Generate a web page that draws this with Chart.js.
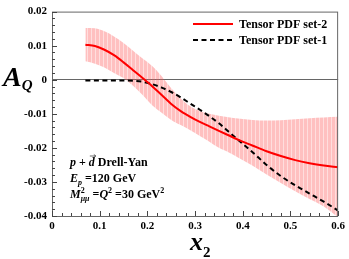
<!DOCTYPE html>
<html>
<head>
<meta charset="utf-8">
<script src="https://cdn.jsdelivr.net/npm/chart.js@4.4.1/dist/chart.umd.min.js"></script>
<style>
html, body { margin: 0; padding: 0; background: #fff; }
canvas { display: block; }
</style>
</head>
<body>
<canvas id="chart" width="349" height="259"></canvas>
<script>
// values
const xValues = [0.07, 0.09, 0.11, 0.13, 0.15, 0.17, 0.19, 0.21, 0.23, 0.25, 0.27, 0.29,
    0.31, 0.33, 0.35, 0.37, 0.39, 0.42, 0.45, 0.48, 0.51, 0.54, 0.57, 0.60];
const set2Values = [0.0103, 0.0099, 0.0088, 0.0072, 0.0051, 0.0028, 0.0005, -0.0019, -0.0045, -0.0071, -0.0092, -0.0109,
    -0.0124, -0.0137, -0.0150, -0.0163, -0.0176, -0.0193, -0.0210, -0.0224, -0.0236, -0.0245, -0.0252, -0.0257];
const set1Values = [-0.0002, -0.0002, -0.0002, -0.0002, -0.0002, -0.0003, -0.0006, -0.0013, -0.0023, -0.0036, -0.0052, -0.0070,
    -0.0088, -0.0107, -0.0128, -0.0152, -0.0176, -0.0212, -0.0250, -0.0283, -0.0310, -0.0334, -0.0358, -0.0384];
const bandUpper = [0.0152, 0.0151, 0.0142, 0.0127, 0.0108, 0.0085, 0.0062, 0.0040, 0.0010, -0.0025, -0.0055, -0.0078,
    -0.0092, -0.0100, -0.0106, -0.0110, -0.0114, -0.0118, -0.0120, -0.0119, -0.0116, -0.0113, -0.0111, -0.0109];
const bandLower = [0.0054, 0.0047, 0.0036, 0.0020, 0.0005, -0.0018, -0.0045, -0.0075, -0.0097, -0.0118, -0.0133, -0.0148,
    -0.0165, -0.0182, -0.0200, -0.0213, -0.0228, -0.0252, -0.0278, -0.0303, -0.0327, -0.0350, -0.0372, -0.0404];

const seriesNames = ["Tensor PDF set-2", "Tensor PDF set-1"];
const xMajorTicks = [0, 0.1, 0.2, 0.3, 0.4, 0.5, 0.6];
const xTickLabels = ["0", "0.1", "0.2", "0.3", "0.4", "0.5", "0.6"];
const yMajorTicks = [0.02, 0.01, 0, -0.01, -0.02, -0.03, -0.04];
const yTickLabels = ["0.02", "0.01", "0", "-0.01", "-0.02", "-0.03", "-0.04"];

const serif = '"Liberation Serif", "Times New Roman", serif';

const toPoints = (values) => xValues.map((x, i) => ({ x: x, y: values[i] }));

const labelFor = (value, majors, labels) => {
    const idx = majors.findIndex(t => Math.abs(t - value) < 1e-9);
    return idx >= 0 ? labels[idx] : "";
};

// pink band with thin light vertical stripes
const makeStripes = () => {
    const c = document.createElement("canvas");
    c.width = 4;
    c.height = 4;
    const g = c.getContext("2d");
    g.fillStyle = "rgba(255,90,90,0.38)";
    g.fillRect(0, 0, 3, 4);
    g.fillStyle = "rgba(255,90,90,0.2)";
    g.fillRect(3, 0, 1, 4);
    return document.getElementById("chart").getContext("2d").createPattern(c, "repeat");
};

// writes a row of text pieces with mixed styles
const drawRuns = (ctx, x, y, runs) => {
    let cx = x;
    runs.forEach(run => {
        ctx.font = (run.italic ? "italic " : "") + "bold " + (run.size || 12) + "px " + serif;
        const w = ctx.measureText(run.text).width;
        ctx.fillText(run.text, cx, y + (run.dy || 0));
        if (run.arrow) {
            const ax = cx + 1, ay = y - 10;
            ctx.lineWidth = 0.8;
            ctx.beginPath();
            ctx.moveTo(ax, ay);
            ctx.lineTo(ax + w, ay);
            ctx.moveTo(ax + w - 2, ay - 1.5);
            ctx.lineTo(ax + w, ay);
            ctx.lineTo(ax + w - 2, ay + 1.5);
            ctx.stroke();
        }
        if (!run.stay) cx += w;
    });
};

const decorations = {
    id: "decorations",
    afterDraw(chart) {
        const ctx = chart.ctx;
        const area = chart.chartArea;
        const xScale = chart.scales.x;
        const yScale = chart.scales.y;
        ctx.save();

        // frame
        ctx.strokeStyle = "#666";
        ctx.lineWidth = 1;
        ctx.strokeRect(area.left + 0.5, area.top + 0.5, area.right - area.left - 1, area.bottom - area.top);

        // inward ticks on left and bottom axes
        ctx.strokeStyle = "#444";
        ctx.beginPath();
        xScale.ticks.forEach(t => {
            const px = Math.round(xScale.getPixelForValue(t.value)) + 0.5;
            const len = t.label ? 5 : 3;
            ctx.moveTo(px, area.bottom);
            ctx.lineTo(px, area.bottom - len);
        });
        yScale.ticks.forEach(t => {
            const py = Math.round(yScale.getPixelForValue(t.value)) + 0.5;
            const len = t.label ? 5 : 3;
            ctx.moveTo(area.left, py);
            ctx.lineTo(area.left + len, py);
        });
        ctx.stroke();

        ctx.fillStyle = "#000";
        ctx.textBaseline = "alphabetic";
        ctx.textAlign = "left";

        // axis titles
        drawRuns(ctx, 3, 86, [
            { text: "A", italic: true, size: 28 },
            { text: "Q", italic: true, size: 15, dy: 4 }
        ]);
        drawRuns(ctx, 190, 250, [
            { text: "x", italic: true, size: 26 },
            { text: "2", size: 15, dy: 7 }
        ]);

        // kinematics note
        drawRuns(ctx, 70, 166, [
            { text: "p", italic: true },
            { text: " + " },
            { text: "d", italic: true, arrow: true },
            { text: " Drell-Yan" }
        ]);
        drawRuns(ctx, 70, 182, [
            { text: "E", italic: true },
            { text: "p", italic: true, size: 8, dy: 3 },
            { text: " =120 GeV" }
        ]);
        drawRuns(ctx, 70, 198, [
            { text: "M", italic: true },
            { text: "2", size: 8, dy: -5, stay: true },
            { text: "μμ", italic: true, size: 8, dy: 3 },
            { text: " =" },
            { text: "Q", italic: true },
            { text: "2", size: 8, dy: -5 },
            { text: " =30 GeV" },
            { text: "2", size: 8, dy: -5 }
        ]);

        // legend
        ctx.lineWidth = 2;
        ctx.strokeStyle = "#ff0000";
        ctx.beginPath();
        ctx.moveTo(193, 24);
        ctx.lineTo(233, 24);
        ctx.stroke();
        ctx.strokeStyle = "#000";
        ctx.setLineDash([5, 3.5]);
        ctx.beginPath();
        ctx.moveTo(193, 40);
        ctx.lineTo(233, 40);
        ctx.stroke();
        ctx.setLineDash([]);
        ctx.font = "bold 12px " + serif;
        ctx.fillText(seriesNames[0], 239, 28);
        ctx.fillText(seriesNames[1], 239, 44);

        ctx.restore();
    }
};

const chart = new Chart(document.getElementById("chart"), {
    type: "line",
    data: {
        datasets: [
            {
                label: seriesNames[0],
                data: toPoints(set2Values),
                borderColor: "#ff0000",
                borderWidth: 2,
                pointRadius: 0,
                cubicInterpolationMode: "monotone",
                fill: false,
                order: 1
            },
            {
                label: seriesNames[1],
                data: toPoints(set1Values),
                borderColor: "#000",
                borderWidth: 2,
                borderDash: [5, 3.5],
                pointRadius: 0,
                cubicInterpolationMode: "monotone",
                fill: false,
                order: 2
            },
            {
                label: "band upper",
                data: toPoints(bandUpper),
                borderWidth: 0,
                borderColor: "transparent",
                backgroundColor: makeStripes(),
                pointRadius: 0,
                cubicInterpolationMode: "monotone",
                fill: "+1",
                order: 3
            },
            {
                label: "band lower",
                data: toPoints(bandLower),
                borderWidth: 0,
                borderColor: "transparent",
                pointRadius: 0,
                cubicInterpolationMode: "monotone",
                fill: false,
                order: 4
            }
        ]
    },
    options: {
        responsive: false,
        animation: false,
        layout: { padding: { top: 6, right: 7, left: 0, bottom: 0 } },
        plugins: {
            legend: { display: false },
            tooltip: { enabled: false }
        },
        scales: {
            x: {
                type: "linear",
                min: 0,
                max: 0.6,
                afterFit: (scale) => { scale.height = 43; },
                grid: { display: false, drawTicks: false },
                border: { display: false },
                ticks: {
                    stepSize: 0.02,
                    autoSkip: false,
                    maxRotation: 0,
                    padding: 4,
                    color: "#000",
                    font: { family: serif, size: 11, weight: "bold" },
                    callback: (value) => labelFor(value, xMajorTicks, xTickLabels)
                }
            },
            y: {
                min: -0.04,
                max: 0.02,
                afterFit: (scale) => { scale.width = 52; },
                grid: {
                    drawTicks: false,
                    color: (ctx) => ctx.tick && Math.abs(ctx.tick.value) < 1e-9 ? "#666" : "transparent"
                },
                border: { display: false },
                ticks: {
                    stepSize: 0.002,
                    autoSkip: false,
                    padding: 5,
                    color: "#000",
                    font: { family: serif, size: 11, weight: "bold" },
                    callback: (value) => labelFor(value, yMajorTicks, yTickLabels)
                }
            }
        }
    },
    plugins: [decorations]
});
</script>
</body>
</html>
